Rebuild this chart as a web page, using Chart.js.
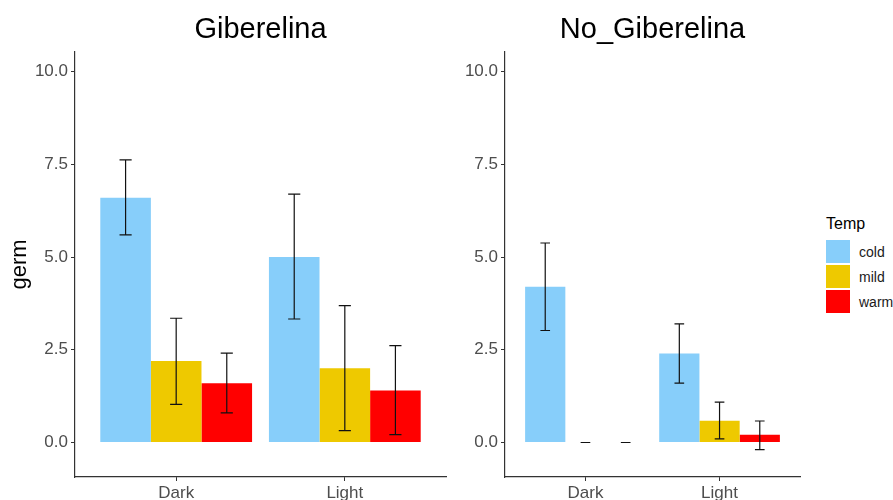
<!DOCTYPE html>
<html>
<head>
<meta charset="utf-8">
<script src="https://cdn.jsdelivr.net/npm/chart.js@4.4.1/dist/chart.umd.min.js"></script>
<style>
  body{margin:0;background:#fff;width:893px;height:500px;overflow:hidden;position:relative;font-family:"Liberation Sans",Arial,sans-serif}
  canvas{position:absolute;top:0}
  #c1{left:0}
  #c2{left:430px}
  #legenda{position:absolute;left:826px;top:214px}
  #legenda .tit{font-size:16px;line-height:19px;color:#000;margin-bottom:6px}
  #legenda .item{display:flex;align-items:center;height:25px}
  #legenda .caixa{width:24px;height:23px;margin-right:9px}
  #legenda .item span{font-size:14px;color:#1a1a1a;white-space:nowrap}
</style>
</head>
<body>
<canvas id="c1" width="452" height="500"></canvas>
<canvas id="c2" width="374" height="500"></canvas>
<div id="legenda"></div>
<script>
const categorias = ["Dark", "Light"]
const temps = ["cold", "mild", "warm"]
const cores = ["#87CEFA", "#EEC900", "#FF0000"]
const paineis = ["Giberelina", "No_Giberelina"]
const yTicks = [0, 2.5, 5, 7.5, 10]

// medias por temp (cold, mild, warm), uma posicao por categoria
const gibMedia = [[6.6, 5.0], [2.2, 2.0], [1.6, 1.4]]
const gibMin = [[5.6, 3.33], [1.03, 0.32], [0.8, 0.21]]
const gibMax = [[7.62, 6.7], [3.35, 3.69], [2.41, 2.61]]

const noGibMedia = [[4.2, 2.4], [0, 0.59], [0, 0.21]]
const noGibMin = [[3.02, 1.6], [0, 0.1], [0, -0.19]]
const noGibMax = [[5.38, 3.2], [0, 1.09], [0, 0.58]]

const barrasErro = {
    id: "barrasErro",
    afterDatasetsDraw(chart){
        const ctx = chart.ctx
        const y = chart.scales.y
        ctx.save()
        ctx.strokeStyle = "#111"
        ctx.lineWidth = 1.2
        chart.data.datasets.forEach((ds, i) => {
            const meta = chart.getDatasetMeta(i)
            meta.data.forEach((bar, j) => {
                const top = y.getPixelForValue(ds.erroMax[j])
                const bot = y.getPixelForValue(ds.erroMin[j])
                const meia = bar.width * 0.12
                ctx.beginPath()
                ctx.moveTo(bar.x - meia, top); ctx.lineTo(bar.x + meia, top)
                ctx.moveTo(bar.x - meia, bot); ctx.lineTo(bar.x + meia, bot)
                ctx.moveTo(bar.x, top); ctx.lineTo(bar.x, bot)
                ctx.stroke()
            })
        })
        ctx.restore()
    }
}

const tituloPainel = {
    id: "tituloPainel",
    afterDraw(chart, args, opts){
        const ctx = chart.ctx
        const a = chart.chartArea
        ctx.save()
        ctx.fillStyle = "#000"
        ctx.font = "29px 'Liberation Sans', Arial, sans-serif"
        ctx.textAlign = "center"
        ctx.textBaseline = "alphabetic"
        ctx.fillText(opts.texto, (a.left + a.right) / 2, 38)
        ctx.restore()
    }
}

function montarDatasets(medias, mins, maxs){
    return temps.map((t, k) => ({
        label: t,
        data: categorias.map((c, i) => ({ x: i, y: medias[k][i] })),
        erroMin: mins[k],
        erroMax: maxs[k],
        backgroundColor: cores[k],
        borderWidth: 0,
        categoryPercentage: 0.9,
        barPercentage: 1.0
    }))
}

function criarGrafico(id, titulo, medias, mins, maxs, comTituloY, padDir){
    const ctx = document.getElementById(id)
    return new Chart(ctx, {
        type: "bar",
        data: { datasets: montarDatasets(medias, mins, maxs) },
        plugins: [barrasErro, tituloPainel],
        options: {
            responsive: false,
            animation: false,
            layout: { padding: { top: 52, right: padDir, left: 0, bottom: 0 } },
            plugins: {
                legend: { display: false },
                tooltip: { enabled: false },
                tituloPainel: { texto: titulo }
            },
            scales: {
                x: {
                    type: "linear",
                    min: -0.6,
                    max: categorias.length - 0.4,
                    offset: false,
                    afterBuildTicks: s => { s.ticks = categorias.map((c, i) => ({ value: i })) },
                    afterFit: s => { s.height = 23 },
                    ticks: {
                        callback: v => categorias[v],
                        color: "#4d4d4d",
                        font: { size: 17, family: "'Liberation Sans', Arial, sans-serif" },
                        padding: 2,
                        maxRotation: 0
                    },
                    grid: { offset: false, drawOnChartArea: false, drawTicks: true, tickLength: 4, color: "#333" },
                    border: { color: "#333", width: 1.2 }
                },
                y: {
                    min: -0.93,
                    max: 10.53,
                    afterBuildTicks: s => { s.ticks = yTicks.map(v => ({ value: v })) },
                    afterFit: s => { s.width = 75 },
                    ticks: {
                        callback: v => v.toFixed(1),
                        color: "#4d4d4d",
                        font: { size: 17, family: "'Liberation Sans', Arial, sans-serif" },
                        padding: 3
                    },
                    grid: { drawOnChartArea: false, drawTicks: true, tickLength: 4, color: "#333" },
                    border: { color: "#333", width: 1.2 },
                    title: {
                        display: comTituloY,
                        text: "germ",
                        color: "#000",
                        font: { size: 22, family: "'Liberation Sans', Arial, sans-serif" },
                        padding: { top: 7, bottom: 0 }
                    }
                }
            }
        }
    })
}

function montarLegenda(){
    const el = document.getElementById("legenda")
    el.innerHTML = "<div class='tit'>Temp</div>" + temps
        .map((t, k) => `<div class='item'><div class='caixa' style='background:${cores[k]}'></div><span>${t}</span></div>`)
        .join("")
}

criarGrafico("c1", paineis[0], gibMedia, gibMin, gibMax, true, 6)
criarGrafico("c2", paineis[1], noGibMedia, noGibMin, noGibMax, false, 4)
montarLegenda()
</script>
</body>
</html>
